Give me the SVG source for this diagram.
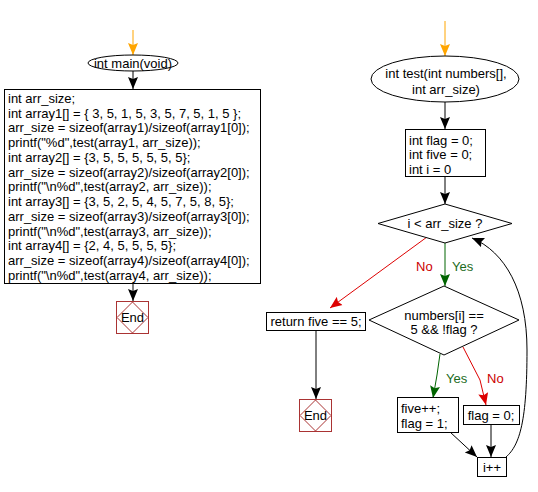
<svg xmlns="http://www.w3.org/2000/svg" width="538" height="492" viewBox="0 0 538 492">
<style>
text{font-family:"Liberation Sans",Arial,sans-serif;font-size:13px;fill:#000}
.c{text-anchor:middle}
.box{fill:#fff;stroke:#000;stroke-width:1}
.end{fill:#fff;stroke:#a33;stroke-width:1}
.ln{fill:none;stroke:#000;stroke-width:1}
.g{fill:none;stroke:#006400;stroke-width:1}
.r{fill:none;stroke:#d00;stroke-width:1}
.o{fill:none;stroke:#ffa500;stroke-width:1}
</style>
<defs>
<marker id="ab" markerWidth="8" markerHeight="12" refX="8" refY="6" orient="auto" markerUnits="userSpaceOnUse" viewBox="0 0 8 12"><path d="M0,0 L8,6 L0,12 L2,6 Z" transform="scale(1)" fill="#000"/></marker>
<marker id="ag" markerWidth="12" markerHeight="12" refX="12" refY="6" orient="auto" markerUnits="userSpaceOnUse"><path d="M0,1 L12,6 L0,11 L2,6 Z" fill="#006400"/></marker>
<marker id="ar" markerWidth="12" markerHeight="12" refX="12" refY="6" orient="auto" markerUnits="userSpaceOnUse"><path d="M0,1 L12,6 L0,11 L2,6 Z" fill="#d00"/></marker>
<marker id="ao" markerWidth="12" markerHeight="12" refX="12" refY="6" orient="auto" markerUnits="userSpaceOnUse"><path d="M0,1 L12,6 L0,11 L2,6 Z" fill="#ffa500"/></marker>
<marker id="ak" markerWidth="12" markerHeight="12" refX="12" refY="6" orient="auto" markerUnits="userSpaceOnUse"><path d="M0,1 L12,6 L0,11 L2,6 Z" fill="#000"/></marker>
</defs>
<g id="connectors">
<path class="o" d="M133,30 V55" marker-end="url(#ao)"/>
<path class="ln" d="M133,71 V89" marker-end="url(#ak)"/>
<path class="ln" d="M133,284 V301" marker-end="url(#ak)"/>
<path class="o" d="M445,21 V56" marker-end="url(#ao)"/>
<path class="ln" d="M445,102 V129" marker-end="url(#ak)"/>
<path class="ln" d="M445,177 V204" marker-end="url(#ak)"/>
<path class="g" d="M445,243 V286" marker-end="url(#ag)"/>
<path class="r" d="M427,237 L330,308" marker-end="url(#ar)"/>
<path class="ln" d="M316,330 V399" marker-end="url(#ak)"/>
<path class="g" d="M440,354 L437,375 L433,398" marker-end="url(#ag)"/>
<path class="r" d="M463,347 L480,380 L486,405" marker-end="url(#ar)"/>
<path class="ln" d="M450,432 L477,457" marker-end="url(#ak)"/>
<path class="ln" d="M491,424 V457" marker-end="url(#ak)"/>
<path class="ln" d="M506,457 C520,445 527,420 527,350 C527,290 505,252 472,238" marker-end="url(#ak)"/>
<text x="416" y="271" style="fill:#c00">No</text>
<text x="452" y="271" style="fill:#1d6b1d">Yes</text>
<text x="446" y="383" style="fill:#1d6b1d">Yes</text>
<text x="487" y="383" style="fill:#c00">No</text>
</g>
<g id="main_start">
<ellipse cx="133" cy="63" rx="45" ry="8" class="box"/>
<text x="133" y="68" class="c">int main(void)</text>
</g>
<g id="main_body">
<rect x="4.5" y="89.5" width="256" height="194" class="box"/>
<text x="8" y="103">int arr_size;</text>
<text x="8" y="118">int array1[] = { 3, 5, 1, 5, 3, 5, 7, 5, 1, 5 };</text>
<text x="8" y="132">arr_size = sizeof(array1)/sizeof(array1[0]);</text>
<text x="8" y="147">printf("%d",test(array1, arr_size));</text>
<text x="8" y="162">int array2[] = {3, 5, 5, 5, 5, 5, 5};</text>
<text x="8" y="177">arr_size = sizeof(array2)/sizeof(array2[0]);</text>
<text x="8" y="191">printf("\n%d",test(array2, arr_size));</text>
<text x="8" y="206">int array3[] = {3, 5, 2, 5, 4, 5, 7, 5, 8, 5};</text>
<text x="8" y="221">arr_size = sizeof(array3)/sizeof(array3[0]);</text>
<text x="8" y="236">printf("\n%d",test(array3, arr_size));</text>
<text x="8" y="250">int array4[] = {2, 4, 5, 5, 5, 5};</text>
<text x="8" y="265">arr_size = sizeof(array4)/sizeof(array4[0]);</text>
<text x="8" y="280">printf("\n%d",test(array4, arr_size));</text>
</g>
<g id="main_end">
<rect x="116.5" y="301.5" width="32" height="32" class="end"/>
<path d="M132.5,302 L148,317.5 L132.5,333 L117,317.5 Z" class="end"/>
<text x="132.5" y="322" class="c">End</text>
</g>
<g id="test_start">
<ellipse cx="445" cy="79" rx="74" ry="23" class="box"/>
<text x="446" y="78" class="c">int test(int numbers[],</text>
<text x="446" y="94" class="c">int arr_size)</text>
</g>
<g id="init">
<rect x="405.5" y="129.5" width="80" height="47" class="box"/>
<text x="409" y="145">int flag = 0;</text>
<text x="409" y="159">int five = 0;</text>
<text x="409" y="174">int i = 0</text>
</g>
<g id="cond1">
<path d="M445,204 L512,223.5 L445,243 L378,223.5 Z" class="box"/>
<text x="445" y="228" class="c">i &lt; arr_size ?</text>
</g>
<g id="cond2">
<path d="M444,286 L519,320 L444,355 L369,320 Z" class="box"/>
<text x="444" y="320" class="c">numbers[i] ==</text>
<text x="444" y="334" class="c">5 &amp;&amp; !flag ?</text>
</g>
<g id="ret">
<rect x="266.5" y="312.5" width="99" height="18" class="box"/>
<text x="316" y="326" class="c">return five == 5;</text>
</g>
<g id="test_end">
<rect x="299.5" y="399.5" width="32" height="32" class="end"/>
<path d="M315.5,400 L331,415.5 L315.5,431 L300,415.5 Z" class="end"/>
<text x="315.5" y="420" class="c">End</text>
</g>
<g id="yes_box">
<rect x="397.5" y="397.5" width="61" height="35" class="box"/>
<text x="401" y="413">five++;</text>
<text x="401" y="428">flag = 1;</text>
</g>
<g id="no_box">
<rect x="463.5" y="405.5" width="56" height="19" class="box"/>
<text x="491" y="420" class="c">flag = 0;</text>
</g>
<g id="inc">
<rect x="477.5" y="457.5" width="29" height="19" class="box"/>
<text x="492" y="472" class="c">i++</text>
</g>
</svg>
